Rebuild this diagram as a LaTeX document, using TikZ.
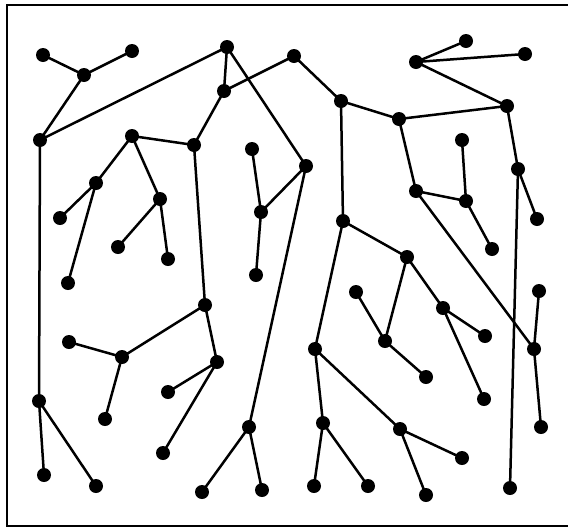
\documentclass[tikz,border=0pt]{standalone}
\begin{document}
\begin{tikzpicture}[x=1pt,y=-1pt,
  dot/.style={circle,fill=black,inner sep=0pt,minimum size=14pt},
  edge/.style={line width=2.5pt},
  framel/.style={line width=2pt}]
\useasboundingbox (0,0) rectangle (568,528);
\draw[framel] (568,5) -- (7,5) -- (7,526) -- (568,526);
% nodes
\foreach \n/\x/\y in {A1/43/55, A2/132/51, A3/84/75, A4/40/140,
  T/227/47, T2/224/91,
  B1/132/136, B2/194/145, B3/96/183, B4/60/218, B5/160/199, B6/118/247, B7/168/259,
  C1/252/149, C2/261/212, C3/256/275,
  D1/294/56, D2/341/101, D3/399/119, D4/416/62, D5/466/41, D6/525/54, D7/507/106,
  D8/462/140, D9/416/191, D10/466/201, D11/492/249, D12/518/169, D13/537/219,
  D14/306/166, D15/343/221, D16/407/257,
  E1/68/283, E3/205/305, E4/69/342, E5/122/357, E6/217/362, E7/168/392,
  E8/39/401, E9/105/419, E10/249/427, E11/163/453, E12/44/475, E13/96/486,
  E14/202/492, E15/262/490,
  F1/356/292, F2/443/308, F3/485/336, F4/385/341, F5/315/349, F6/426/377,
  F7/484/399, F8/539/291, F9/534/349, F10/541/427, F11/323/423, F12/400/429,
  F13/462/458, F14/314/486, F15/368/486, F16/426/495, F17/510/488}
  \node[dot] (\n) at (\x,\y) {};
% edges
\foreach \a/\b in {A1/A3, A2/A3, A3/A4, A4/T, T/T2, T/D14, T2/D1, T2/B2,
  B1/B2, B1/B3, B1/B5, B3/B4, B3/E1, B5/B6, B5/B7, B2/E3,
  C1/C2, C2/D14, C2/C3, A4/E8, E8/E12, E8/E13, E3/E5, E4/E5, E5/E9,
  E3/E6, E6/E7, E6/E11, D14/E10, E10/E14, E10/E15,
  D1/D2, D2/D3, D3/D7, D4/D5, D4/D6, D4/D7, D7/D12, D12/D13, D12/F17,
  D3/D9, D9/D10, D8/D10, D10/D11, D9/F9, F8/F9, F9/F10,
  D2/D15, D15/D16, D16/F4, D16/F2, F1/F4, F4/F6, F2/F3, F2/F7,
  D15/F5, F5/F11, F5/F12, F11/F14, F11/F15, F12/F13, F12/F16}
  \draw[edge] (\a.center) -- (\b.center);
\end{tikzpicture}
\end{document}
